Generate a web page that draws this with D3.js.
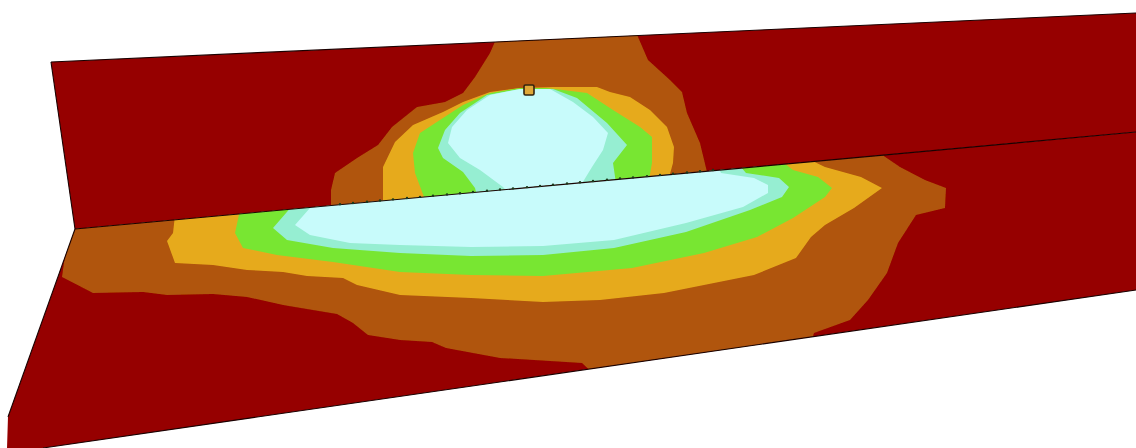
<!DOCTYPE html>
<html>
<head>
<meta charset="utf-8">
<script src="https://cdn.jsdelivr.net/npm/d3@7"></script>
<style>
  html, body { margin: 0; padding: 0; background: #fff; overflow: hidden; }
</style>
</head>
<body>
<div id="my_dataviz"></div>
<script>
// outlines of the two plates
const upperPlate = [[51,62],[1136,13],[1136,132],[75,229]];
const lowerPlate = [[75,229],[1136,132],[1136,290],[43,448],[7,448],[8,417]];

// upper plate bands
const upperBrown = [[500,30],[490,53],[475,77],[463,93],[445,102],[417,107],[392,127],[378,145],[357,158],[335,173],[331,190],[331,215],[707,180],[707,172],[700,143],[687,113],[682,92],[670,80],[648,60],[635,30]];
const upperAmber = [[383,215],[383,167],[395,142],[413,125],[443,112],[463,102],[490,92],[520,88],[553,87],[597,87],[610,92],[630,97],[650,110],[667,127],[674,147],[673,163],[667,185]];
const upperGreen = [[427,205],[415,173],[413,153],[420,133],[443,118],[463,105],[490,93],[520,88],[547,88],[587,93],[613,110],[640,127],[652,137],[652,163],[648,185]];
const upperTeal = [[478,200],[475,188],[463,172],[443,158],[438,148],[445,130],[460,113],[487,95],[520,89],[553,89],[577,98],[607,123],[627,145],[613,163],[617,190]];
const upperIce = [[510,195],[503,187],[480,170],[460,158],[448,143],[452,127],[467,110],[490,95],[520,89],[550,89],[573,102],[593,117],[608,133],[603,150],[592,167],[578,190]];

// lower plate bands
const lowerBrown = [[70,220],[62,277],[93,293],[143,292],[167,295],[213,294],[247,297],[283,305],[337,314],[353,323],[368,335],[400,340],[432,342],[446,348],[500,358],[582,363],[600,380],[800,380],[814,333],[850,320],[868,300],[887,273],[898,243],[916,215],[945,208],[946,188],[925,180],[900,167],[875,150]];
const lowerAmber = [[175,215],[173,233],[167,241],[175,263],[213,265],[247,270],[283,272],[307,276],[343,278],[357,285],[400,295],[471,298],[543,302],[600,300],[664,293],[754,275],[796,258],[811,237],[825,225],[854,208],[882,188],[861,177],[825,167],[800,155]];
const lowerGreen = [[240,210],[235,233],[243,248],[277,255],[333,262],[400,272],[471,275],[543,276],[632,268],[704,253],[757,237],[793,218],[825,197],[832,188],[818,177],[793,170],[780,160]];
const lowerTeal = [[293,205],[273,228],[287,240],[333,248],[400,253],[471,256],[543,255],[614,248],[686,232],[750,210],[782,197],[789,187],[779,178],[746,173],[735,160]];
const lowerIce = [[317,200],[295,225],[310,235],[350,243],[400,245],[471,247],[543,246],[614,240],[686,223],[743,207],[768,193],[768,185],[754,178],[721,173],[715,160]];

// stitch marks along the weld line, and the probe
const stitchX = [340,353,367,380,393,407,420,433,447,460,473,487,500,513,527,540,553,567,580,593,607,620,633,647,660,673,687,700,713];
const probe = [[529,90]];

const bandColors = { brown: "#b0540a", amber: "#e6aa1e", green: "#78e632", teal: "#96eed2", ice: "#c8fbfb" };
const plateColor = "#960000";

const width = 1136, height = 448;

const svg = d3.select("#my_dataviz")
  .append("svg")
  .attr("width", width)
  .attr("height", height)
  .style("display", "block");

const x = d3.scaleLinear().domain([0, 1136]).range([0, width]);
const y = d3.scaleLinear().domain([0, 448]).range([0, height]);

// the weld line, so the stitches sit on it
const weldY = d3.scaleLinear().domain([75, 1136]).range([229, 132]);

const line = d3.line()
  .x(d => x(d[0]))
  .y(d => y(d[1]))
  .curve(d3.curveLinearClosed);

const defs = svg.append("defs");
defs.append("filter").attr("id", "soft")
  .append("feGaussianBlur").attr("stdDeviation", 0.5);
defs.append("clipPath").attr("id", "clip-upper")
  .append("path").attr("d", line(upperPlate));
defs.append("clipPath").attr("id", "clip-lower")
  .append("path").attr("d", line(lowerPlate));

const chart = svg.append("g").attr("filter", "url(#soft)");

function drawPlate(outline, clipId, bands) {
  chart.append("path")
    .attr("d", line(outline))
    .attr("fill", plateColor);

  chart.append("g")
    .attr("clip-path", "url(#" + clipId + ")")
    .selectAll("path")
    .data(bands)
    .enter()
    .append("path")
    .attr("d", d => line(d.points))
    .attr("fill", d => d.color);
}

drawPlate(upperPlate, "clip-upper", [
  { points: upperBrown, color: bandColors.brown },
  { points: upperAmber, color: bandColors.amber },
  { points: upperGreen, color: bandColors.green },
  { points: upperTeal, color: bandColors.teal },
  { points: upperIce, color: bandColors.ice }
]);

drawPlate(lowerPlate, "clip-lower", [
  { points: lowerBrown, color: bandColors.brown },
  { points: lowerAmber, color: bandColors.amber },
  { points: lowerGreen, color: bandColors.green },
  { points: lowerTeal, color: bandColors.teal },
  { points: lowerIce, color: bandColors.ice }
]);

// black edges
const edgeLine = d3.line().x(d => x(d[0])).y(d => y(d[1]));
const edges = [
  [upperPlate[0], upperPlate[1]],
  [upperPlate[0], upperPlate[3]],
  [upperPlate[3], upperPlate[2]],
  [lowerPlate[2], lowerPlate[3]],
  [lowerPlate[0], lowerPlate[5]]
];
chart.append("g")
  .selectAll("path")
  .data(edges)
  .enter()
  .append("path")
  .attr("d", d => edgeLine(d))
  .attr("fill", "none")
  .attr("stroke", "#1a0505")
  .attr("stroke-width", 1.1);

chart.append("g")
  .selectAll("circle")
  .data(stitchX)
  .enter()
  .append("circle")
  .attr("cx", d => x(d))
  .attr("cy", d => y(weldY(d)) - 0.6)
  .attr("r", 1.2)
  .attr("fill", "#1c3a1c");

chart.append("g")
  .selectAll("rect")
  .data(probe)
  .enter()
  .append("rect")
  .attr("x", d => x(d[0]) - 5)
  .attr("y", d => y(d[1]) - 5)
  .attr("width", 10)
  .attr("height", 10)
  .attr("rx", 1.5)
  .attr("fill", "#e0a838")
  .attr("stroke", "#33240c")
  .attr("stroke-width", 1.6);
</script>
</body>
</html>
